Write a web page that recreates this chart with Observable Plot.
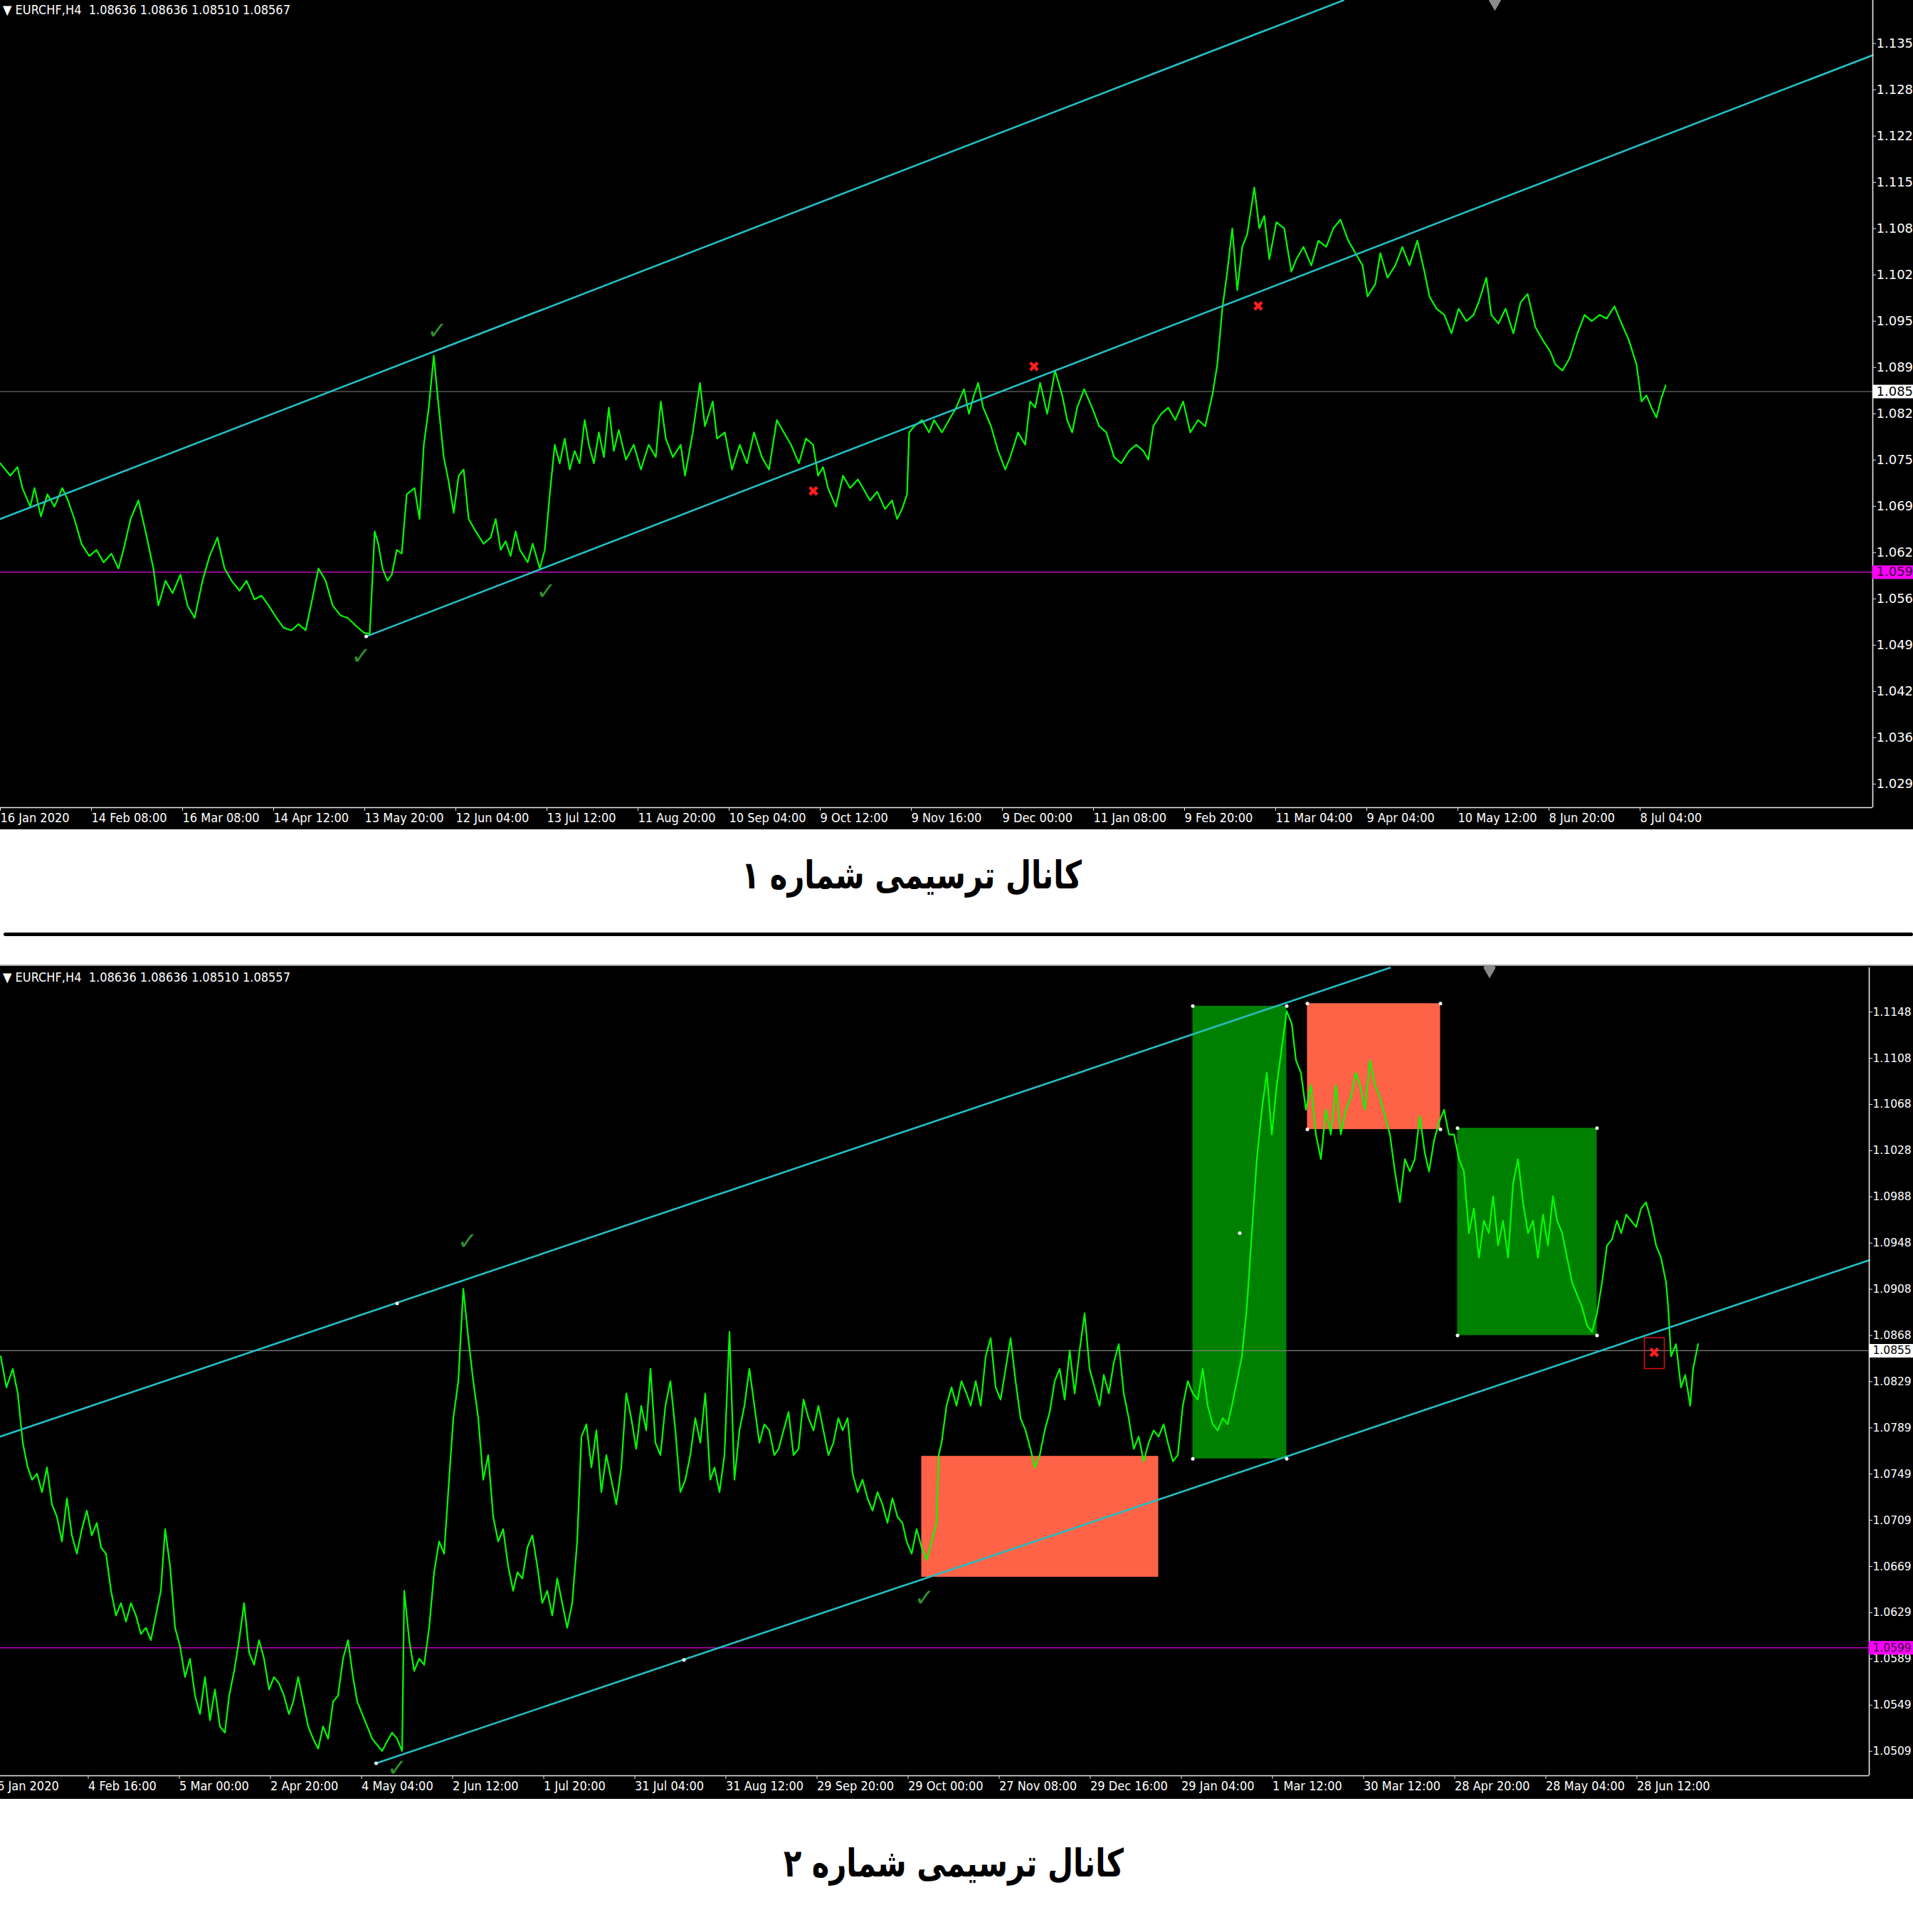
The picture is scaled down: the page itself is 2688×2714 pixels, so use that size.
<!DOCTYPE html>
<html>
<head>
<meta charset="utf-8">
<script src="https://cdn.jsdelivr.net/npm/d3@7"></script>
<script src="https://cdn.jsdelivr.net/npm/@observablehq/plot@0.6"></script>
<style>
  html, body { margin: 0; padding: 0; background: #fff; overflow: hidden; }
  #page { position: relative; width: 2688px; height: 2714px; overflow: hidden; background: #fff; }
  .panel { position: absolute; left: 0; width: 2688px; background: #000; overflow: hidden; }
  .panel svg { display: block; }
  .hdr { position: absolute; left: 4px; color: #fff; white-space: pre;
         font-family: "DejaVu Sans Condensed", "Liberation Sans Narrow", "DejaVu Sans"; font-stretch: condensed; font-size: 18px; }
  .cap { position: absolute; transform: translate(-50%, -50%) scaleX(0.77); white-space: nowrap; direction: rtl;
         font-family: "DejaVu Sans"; font-weight: bold; font-size: 54px; color: #000; }
  .sep { position: absolute; left: 5px; right: 0; top: 1310px; height: 5px; background: #000; border-radius: 3px; }
</style>
</head>
<body>
<div id="page">
  <div class="panel" id="top" style="top:0;height:1165px;"></div>
  <div class="cap" style="left:1281px;top:1229px;">کانال ترسیمی شماره ۱</div>
  <div class="sep"></div>
  <div class="panel" id="bottom" style="top:1355px;height:1170px;border-top:2px solid #a0a0a0;"></div>
  <div class="cap" style="left:1340px;top:2617px;">کانال ترسیمی شماره ۲</div>
</div>
<script>
// ---------- EURCHF H4, chart 1 ----------
const topHeader = "EURCHF,H4  1.08636 1.08636 1.08510 1.08567";
const topXTicks = [0,128,256,384,512,640,768,896,1024,1152,1280,1408,1536,1664,1792,1920,2048,2176,2304];
const topXLabels = ["16 Jan 2020","14 Feb 08:00","16 Mar 08:00","14 Apr 12:00","13 May 20:00","12 Jun 04:00","13 Jul 12:00","11 Aug 20:00","10 Sep 04:00","9 Oct 12:00","9 Nov 16:00","9 Dec 00:00","11 Jan 08:00","9 Feb 20:00","11 Mar 04:00","9 Apr 04:00","10 May 12:00","8 Jun 20:00","8 Jul 04:00"];
const topYTicks = [1.1353,1.1287,1.1221,1.1155,1.1089,1.1023,1.0957,1.0891,1.0825,1.0759,1.0693,1.0627,1.0561,1.0495,1.0429,1.0363,1.0297];
const topLastClose = 1.08567;
const horizontalLevel = 1.05992;
// [bar, close]
const topCloses = [
 [3,1.07543],[17,1.07367],[27,1.07490],[34,1.07191],[45,1.06926],[51,1.07191],[60,1.06785],[69,1.07102],[79,1.06926],[90,1.07191],
 [98,1.07014],[107,1.06750],[117,1.06397],[128,1.06221],[138,1.06309],[148,1.06132],[159,1.06256],[169,1.06044],[176,1.06309],[186,1.06750],
 [197,1.07014],[207,1.06573],[218,1.06044],[225,1.05515],[235,1.05868],[245,1.05692],[256,1.05956],[266,1.05515],[276,1.05339],[287,1.05868],
 [297,1.06221],[308,1.06485],[318,1.06044],[328,1.05868],[339,1.05727],[349,1.05868],[360,1.05603],[370,1.05656],[380,1.05515],[391,1.05339],
 [401,1.05198],[412,1.05162],[422,1.05251],[432,1.05162],[443,1.05692],[450,1.06044],[460,1.05868],[470,1.05515],[481,1.05374],[491,1.05339],
 [502,1.05233],[514,1.05127],[522,1.05110],[529,1.06573],[534,1.06397],[540,1.06044],[547,1.05868],[553,1.05956],[560,1.06309],[567,1.06256],
 [574,1.07102],[585,1.07191],[592,1.06750],[598,1.07808],[605,1.08337],[612,1.09078],[619,1.08337],[626,1.07632],[633,1.07279],[640,1.06838],
 [647,1.07367],[654,1.07455],[661,1.06750],[671,1.06573],[682,1.06397],[692,1.06485],[699,1.06750],[706,1.06309],[713,1.06432],[720,1.06221],
 [727,1.06573],[733,1.06309],[744,1.06132],[751,1.06397],[761,1.06044],[768,1.06309],[775,1.07102],[782,1.07808],[789,1.07543],[796,1.07896],
 [803,1.07455],[810,1.07720],[817,1.07543],[824,1.08161],[830,1.07808],[837,1.07543],[844,1.07984],[851,1.07632],[858,1.08337],[865,1.07720],
 [872,1.08019],[882,1.07596],[893,1.07808],[903,1.07455],[914,1.07808],[924,1.07632],[931,1.08425],[938,1.07896],[948,1.07632],[959,1.07808],
 [965,1.07367],[976,1.07984],[986,1.08690],[993,1.08072],[1004,1.08425],[1010,1.07896],[1021,1.07984],[1031,1.07455],[1042,1.07808],[1052,1.07543],
 [1062,1.07984],[1073,1.07632],[1083,1.07455],[1094,1.08161],[1104,1.07984],[1114,1.07808],[1125,1.07543],[1135,1.07896],[1145,1.07808],[1152,1.07367],
 [1159,1.07490],[1166,1.07191],[1177,1.06926],[1187,1.07367],[1197,1.07191],[1208,1.07314],[1215,1.07191],[1225,1.07014],[1235,1.07138],[1246,1.06891],
 [1256,1.07014],[1263,1.06750],[1270,1.06891],[1277,1.07102],[1280,1.07984],[1287,1.08072],[1298,1.08161],[1308,1.07984],[1315,1.08161],[1326,1.07984],
 [1336,1.08161],[1346,1.08337],[1357,1.08601],[1364,1.08249],[1371,1.08513],[1377,1.08690],[1384,1.08337],[1395,1.08072],[1405,1.07720],[1415,1.07455],
 [1422,1.07632],[1433,1.07984],[1443,1.07808],[1450,1.08425],[1457,1.08337],[1464,1.08690],[1474,1.08249],[1485,1.08866],[1495,1.08513],[1502,1.08161],
 [1509,1.07984],[1516,1.08337],[1526,1.08601],[1537,1.08337],[1547,1.08072],[1557,1.07984],[1568,1.07632],[1578,1.07543],[1589,1.07720],[1599,1.07808],
 [1609,1.07720],[1616,1.07596],[1623,1.08072],[1634,1.08249],[1644,1.08337],[1654,1.08161],[1665,1.08425],[1675,1.07984],[1686,1.08161],[1696,1.08072],
 [1706,1.08513],[1713,1.08954],[1720,1.09748],[1727,1.10277],[1734,1.10894],[1741,1.10012],[1748,1.10630],[1755,1.10806],[1765,1.11476],[1772,1.10894],
 [1779,1.11070],[1786,1.10453],[1796,1.10982],[1807,1.10894],[1817,1.10277],[1824,1.10453],[1834,1.10630],[1845,1.10365],[1855,1.10718],[1866,1.10630],
 [1876,1.10894],[1886,1.11018],[1897,1.10718],[1907,1.10541],[1917,1.10365],[1924,1.09924],[1935,1.10101],[1942,1.10541],[1952,1.10189],[1963,1.10365],
 [1973,1.10630],[1983,1.10365],[1994,1.10718],[2004,1.10277],[2011,1.09924],[2021,1.09748],[2032,1.09660],[2042,1.09395],[2052,1.09748],[2063,1.09571],
 [2073,1.09660],[2080,1.09836],[2091,1.10189],[2098,1.09660],[2108,1.09536],[2118,1.09748],[2129,1.09395],[2139,1.09836],[2149,1.09959],[2160,1.09483],
 [2170,1.09307],[2181,1.09131],[2188,1.08954],[2198,1.08866],[2208,1.09042],[2219,1.09395],[2229,1.09660],[2239,1.09571],[2250,1.09660],[2260,1.09607],
 [2271,1.09783],[2281,1.09536],[2291,1.09307],[2302,1.08954],[2309,1.08425],[2316,1.08513],[2323,1.08337],[2330,1.08196],[2337,1.08478],[2343,1.08654]
];
const topUpperLine = [[3,1.06750],[1890,1.14145]];
const topLowerLine = [[517,1.05074],[2634,1.13364]];
const topAnchors = [[517,1.05074]];
const topChecks = [[617,1.09430],[770,1.05709],[510,1.04792]];
const topCrosses = [[1145,1.07138],[1455,1.08919],[1770,1.09783]];
const topShiftMark = [2103];

// ---------- EURCHF H4, chart 2 ----------
const bottomHeader = "EURCHF,H4  1.08636 1.08636 1.08510 1.08557";
const bottomXTicks = [0,128,256,384,512,640,768,896,1024,1152,1280,1408,1536,1664,1792,1920,2048,2176,2304];
const bottomXLabels = ["6 Jan 2020","4 Feb 16:00","5 Mar 00:00","2 Apr 20:00","4 May 04:00","2 Jun 12:00","1 Jul 20:00","31 Jul 04:00","31 Aug 12:00","29 Sep 20:00","29 Oct 00:00","27 Nov 08:00","29 Dec 16:00","29 Jan 04:00","1 Mar 12:00","30 Mar 12:00","28 Apr 20:00","28 May 04:00","28 Jun 12:00"];
const bottomYTicks = [1.11482,1.11083,1.10684,1.10285,1.09886,1.09487,1.09088,1.08689,1.08290,1.07891,1.07492,1.07093,1.06694,1.06295,1.05896,1.05497,1.05098];
const bottomLastClose = 1.08557;
const bottomCloses = [
 [8,1.08508],[16,1.08241],[25,1.08401],[32,1.08188],[39,1.07762],[46,1.07549],[52,1.07443],[59,1.07496],[66,1.07336],[73,1.07549],
 [80,1.07230],[87,1.07123],[94,1.06910],[101,1.07283],[108,1.06963],[115,1.06804],[122,1.07017],[129,1.07176],[136,1.06963],[143,1.07070],
 [149,1.06857],[156,1.06804],[163,1.06484],[170,1.06271],[177,1.06378],[184,1.06218],[191,1.06378],[198,1.06271],[205,1.06111],[212,1.06165],
 [219,1.06058],[226,1.06271],[233,1.06484],[239,1.07017],[246,1.06697],[253,1.06165],[260,1.06005],[267,1.05739],[274,1.05898],[281,1.05579],
 [288,1.05419],[295,1.05739],[302,1.05366],[309,1.05632],[316,1.05313],[323,1.05259],[329,1.05579],[336,1.05792],[343,1.06058],[350,1.06378],
 [357,1.05952],[364,1.05845],[371,1.06058],[378,1.05898],[385,1.05632],[392,1.05739],[399,1.05685],[406,1.05579],[413,1.05419],[419,1.05526],
 [426,1.05739],[433,1.05526],[440,1.05313],[447,1.05206],[454,1.05121],[461,1.05313],[468,1.05206],[475,1.05526],[482,1.05579],[489,1.05898],
 [496,1.06058],[503,1.05739],[509,1.05526],[516,1.05419],[523,1.05313],[530,1.05206],[537,1.05153],[544,1.05100],[551,1.05185],[558,1.05259],
 [565,1.05206],[572,1.05100],[575,1.06484],[582,1.06058],[589,1.05792],[596,1.05898],[603,1.05845],[610,1.06165],[617,1.06644],[624,1.06910],
 [631,1.06804],[638,1.07443],[644,1.07975],[651,1.08295],[658,1.09093],[665,1.08667],[672,1.08295],[679,1.07975],[686,1.07443],[693,1.07656],
 [700,1.07123],[707,1.06910],[714,1.07017],[721,1.06697],[728,1.06484],[734,1.06644],[741,1.06591],[748,1.06857],[755,1.06963],[762,1.06697],
 [769,1.06378],[776,1.06484],[783,1.06271],[790,1.06591],[797,1.06378],[804,1.06165],[811,1.06378],[818,1.06910],[824,1.07815],[831,1.07922],
 [838,1.07549],[845,1.07869],[852,1.07336],[859,1.07656],[866,1.07443],[873,1.07230],[880,1.07549],[887,1.08188],[894,1.07975],[901,1.07709],
 [908,1.08082],[915,1.07869],[921,1.08401],[928,1.07762],[935,1.07656],[942,1.08082],[949,1.08295],[956,1.07869],[963,1.07336],[970,1.07443],
 [977,1.07656],[984,1.07975],[991,1.07762],[998,1.08188],[1005,1.07443],[1011,1.07549],[1018,1.07336],[1025,1.07656],[1032,1.08720],[1039,1.07443],
 [1046,1.07869],[1053,1.08082],[1060,1.08401],[1067,1.08082],[1074,1.07762],[1081,1.07922],[1088,1.07869],[1095,1.07656],[1101,1.07709],[1108,1.07869],
 [1115,1.08028],[1122,1.07656],[1129,1.07709],[1136,1.08135],[1143,1.07975],[1150,1.07869],[1157,1.08082],[1164,1.07869],[1171,1.07656],[1178,1.07762],
 [1185,1.07975],[1191,1.07869],[1198,1.07975],[1205,1.07496],[1212,1.07336],[1219,1.07443],[1226,1.07283],[1233,1.07176],[1240,1.07336],[1247,1.07230],
 [1254,1.07070],[1261,1.07283],[1268,1.07123],[1275,1.07070],[1281,1.06910],[1288,1.06804],[1295,1.07017],[1302,1.06857],[1309,1.06750],[1316,1.06910],
 [1323,1.07070],[1326,1.07656],[1330,1.07762],[1337,1.08082],[1344,1.08241],[1351,1.08082],[1358,1.08295],[1365,1.08188],[1371,1.08082],[1378,1.08295],
 [1385,1.08082],[1392,1.08508],[1399,1.08667],[1406,1.08241],[1413,1.08135],[1420,1.08401],[1427,1.08667],[1434,1.08295],[1441,1.07975],[1448,1.07869],
 [1455,1.07709],[1461,1.07549],[1468,1.07656],[1475,1.07869],[1482,1.08028],[1489,1.08295],[1496,1.08401],[1503,1.08135],[1510,1.08561],[1517,1.08188],
 [1524,1.08561],[1531,1.08880],[1538,1.08401],[1545,1.08241],[1552,1.08082],[1558,1.08348],[1565,1.08188],[1572,1.08454],[1579,1.08614],[1586,1.08188],
 [1593,1.07975],[1600,1.07709],[1607,1.07815],[1614,1.07602],[1621,1.07762],[1628,1.07869],[1635,1.07815],[1642,1.07922],[1648,1.07762],[1655,1.07602],
 [1662,1.07656],[1669,1.08082],[1676,1.08295],[1683,1.08188],[1690,1.08135],[1697,1.08401],[1704,1.08082],[1711,1.07922],[1718,1.07869],[1725,1.07975],
 [1732,1.07922],[1738,1.08082],[1745,1.08295],[1752,1.08508],[1759,1.08934],[1766,1.09573],[1773,1.10212],[1780,1.10638],[1787,1.10957],[1794,1.10425],
 [1801,1.10851],[1808,1.11170],[1815,1.11490],[1822,1.11383],[1828,1.11064],[1835,1.10957],[1842,1.10638],[1849,1.10851],[1856,1.10425],[1863,1.10212],
 [1870,1.10638],[1877,1.10425],[1884,1.10851],[1891,1.10425],[1898,1.10638],[1905,1.10744],[1912,1.10957],[1918,1.10851],[1925,1.10638],[1932,1.11064],
 [1939,1.10851],[1946,1.10744],[1953,1.10584],[1960,1.10425],[1967,1.10105],[1974,1.09839],[1981,1.10212],[1988,1.10105],[1995,1.10212],[2002,1.10584],
 [2009,1.10265],[2015,1.10105],[2022,1.10371],[2029,1.10531],[2036,1.10638],[2043,1.10425],[2050,1.10425],[2057,1.10212],[2064,1.10105],[2071,1.09573],
 [2078,1.09786],[2085,1.09360],[2092,1.09679],[2099,1.09573],[2105,1.09892],[2112,1.09466],[2119,1.09679],[2126,1.09360],[2133,1.09999],[2140,1.10212],
 [2147,1.09839],[2154,1.09573],[2161,1.09679],[2168,1.09360],[2175,1.09733],[2182,1.09466],[2189,1.09892],[2195,1.09679],[2202,1.09573],[2209,1.09360],
 [2216,1.09147],[2223,1.09040],[2230,1.08934],[2237,1.08774],[2244,1.08720],[2251,1.08880],[2258,1.09147],[2265,1.09466],[2272,1.09519],[2279,1.09679],
 [2285,1.09573],[2292,1.09733],[2299,1.09679],[2306,1.09626],[2313,1.09786],[2320,1.09839],[2327,1.09679],[2334,1.09466],[2341,1.09360],[2348,1.09147],
 [2351,1.08934],[2355,1.08508],[2362,1.08614],[2369,1.08241],[2375,1.08348],[2382,1.08082],[2386,1.08401],[2393,1.08614]
];
const bottomUpperLine = [[7.5,1.07816],[1960,1.11864]];
const bottomLowerLine = [[535.5,1.04994],[2633.5,1.09339]];
const bottomAnchors = [[565,1.08966],[535.5,1.04994],[968,1.05888],[1749,1.09573]];
// [bar from, bar to, price low, price high, colour, selected]
const bottomZones = [
 [1302,1635,1.06602,1.07646,"#ff6347",false],
 [1683,1815,1.07624,1.11533,"#008000",true],
 [1844,2031,1.10468,1.11555,"#ff6347",true],
 [2055,2251,1.08689,1.10479,"#008000",true]
];
const bottomChecks = [[664,1.09498],[1306,1.06420],[565,1.04950]];
const bottomCrosses = [[2331,1.08540]];
const bottomCrossBox = [[2318,2346,1.08400,1.08667]];
const bottomShiftMark = [2100];

// ---------- drawing ----------
const CYAN = "#24bfc3";
const AXIS_FONT = "DejaVu Sans";
const COND_FONT = "DejaVu Sans Condensed, Liberation Sans Narrow, DejaVu Sans";
// the price scale shows quotes cut to a fixed number of digits
const cut = (v, n) => (Math.floor(v * Math.pow(10, n) + 1e-7) / Math.pow(10, n)).toFixed(n);

function drawChart(cfg) {
  const X = d => d[0], Y = d => d[1];
  const marks = [];
  if (cfg.zones) {
    marks.push(Plot.rect(cfg.zones, {x1: d => d[0], x2: d => d[1], y1: d => d[2], y2: d => d[3], fill: d => d[4]}));
  }
  marks.push(Plot.ruleY([cfg.level], {stroke: "#c000c0", strokeWidth: 1.5}));
  marks.push(Plot.ruleY([cfg.lastClose], {stroke: "#808080", strokeWidth: 1.2}));
  marks.push(Plot.line(cfg.closes, {x: X, y: Y, stroke: "#00ff00", strokeWidth: 2.2}));
  marks.push(Plot.line(cfg.upper, {x: X, y: Y, stroke: CYAN, strokeWidth: 2.6}));
  marks.push(Plot.line(cfg.lower, {x: X, y: Y, stroke: CYAN, strokeWidth: 2.6}));
  if (cfg.zones) {
    const corners = cfg.zones.filter(z => z[5]).flatMap(z => [[z[0], z[2]], [z[1], z[2]], [z[0], z[3]], [z[1], z[3]]]);
    marks.push(Plot.dot(corners, {x: X, y: Y, r: 2.5, fill: "#fff"}));
  }
  marks.push(Plot.dot(cfg.anchors, {x: X, y: Y, r: 2.5, fill: "#fff"}));
  if (cfg.crossBox) {
    marks.push(Plot.rect(cfg.crossBox, {x1: d => d[0], x2: d => d[1], y1: d => d[2], y2: d => d[3], stroke: "#e01010", strokeWidth: 1.5, fill: "none"}));
  }
  marks.push(Plot.text(cfg.checks, {x: X, y: Y, text: () => "✓", fill: "#2f8f2f", fontSize: 34, fontFamily: AXIS_FONT}));
  marks.push(Plot.text(cfg.crosses, {x: X, y: Y, text: () => "✖", fill: "#ff1f1f", fontSize: 20, fontFamily: AXIS_FONT}));
  marks.push(Plot.dot(cfg.shift, {x: d => d, frameAnchor: "top", symbol: "diamond", r: 9, fill: "#8a8a8a"}));
  // frame: right and bottom edges
  marks.push(Plot.ruleX([cfg.xDomain[1]], {stroke: "#e8e8e8", strokeWidth: 1.6}));
  marks.push(Plot.ruleY([cfg.yDomain[0]], {stroke: "#e8e8e8", strokeWidth: 1.6}));
  marks.push(Plot.axisX(cfg.xTicks, {
    anchor: "bottom", tickSize: 5, tickPadding: 3, textAnchor: "start", dx: 3,
    tickFormat: d => cfg.xLabels[cfg.xTicks.indexOf(d)],
    fontSize: 18, fontFamily: COND_FONT, stroke: "#e8e8e8", fill: "#fff"
  }));
  marks.push(Plot.axisY(cfg.yTicks, {
    anchor: "right", tickSize: 4, tickPadding: 1,
    tickFormat: d => cut(d, cfg.digits),
    fontSize: cfg.yFont, fontFamily: AXIS_FONT, stroke: "#e8e8e8", fill: "#fff"
  }));
  // price tags on the scale
  const tagX1 = cfg.xDomain[1], tagX2 = cfg.xDomain[1] + 80;
  marks.push(Plot.ruleY([cfg.lastClose], {x1: tagX1, x2: tagX2, stroke: "#fff", strokeWidth: 19}));
  marks.push(Plot.text([cfg.lastClose], {x: tagX1, y: d => d, text: d => cut(d, cfg.digits), dx: 5, textAnchor: "start", fill: "#000", fontSize: cfg.yFont, fontFamily: AXIS_FONT}));
  marks.push(Plot.ruleY([cfg.level], {x1: tagX1, x2: tagX2, stroke: "#ff00ff", strokeWidth: 19}));
  marks.push(Plot.text([cfg.level], {x: tagX1, y: d => d, text: d => cut(d, cfg.digits), dx: 5, textAnchor: "start", fill: "#300030", fontSize: cfg.yFont, fontFamily: AXIS_FONT}));

  return Plot.plot({
    width: 2688, height: cfg.height,
    marginLeft: 0, marginRight: cfg.marginRight, marginTop: cfg.marginTop, marginBottom: cfg.marginBottom,
    x: {domain: cfg.xDomain},
    y: {domain: cfg.yDomain},
    color: {type: "identity"},
    style: {background: "#000", color: "#fff", fontFamily: AXIS_FONT, fontSize: "18px", overflow: "visible"},
    marks
  });
}

const topSvg = drawChart({
  height: 1165, marginRight: 57, marginTop: 0, marginBottom: 31,
  xDomain: [3, 2634], yDomain: [1.02634, 1.14145], digits: 3, yFont: 18,
  closes: topCloses, upper: topUpperLine, lower: topLowerLine, anchors: topAnchors,
  checks: topChecks, crosses: topCrosses, shift: topShiftMark,
  xTicks: topXTicks, xLabels: topXLabels, yTicks: topYTicks,
  lastClose: topLastClose, level: horizontalLevel
});
const bottomSvg = drawChart({
  height: 1170, marginRight: 62, marginTop: 2, marginBottom: 33,
  xDomain: [7.5, 2633.5], yDomain: [1.04887, 1.11864], digits: 4, yFont: 15.5,
  closes: bottomCloses, upper: bottomUpperLine, lower: bottomLowerLine, anchors: bottomAnchors,
  zones: bottomZones, crossBox: bottomCrossBox,
  checks: bottomChecks, crosses: bottomCrosses, shift: bottomShiftMark,
  xTicks: bottomXTicks, xLabels: bottomXLabels, yTicks: bottomYTicks,
  lastClose: bottomLastClose, level: horizontalLevel
});

function mount(id, svg, header, headerTop) {
  const el = document.getElementById(id);
  el.appendChild(svg);
  const h = document.createElement("div");
  h.className = "hdr";
  h.style.top = headerTop + "px";
  h.textContent = "▼ " + header;
  el.appendChild(h);
}
mount("top", topSvg, topHeader, 3);
mount("bottom", bottomSvg, bottomHeader, 5);
</script>
</body>
</html>
